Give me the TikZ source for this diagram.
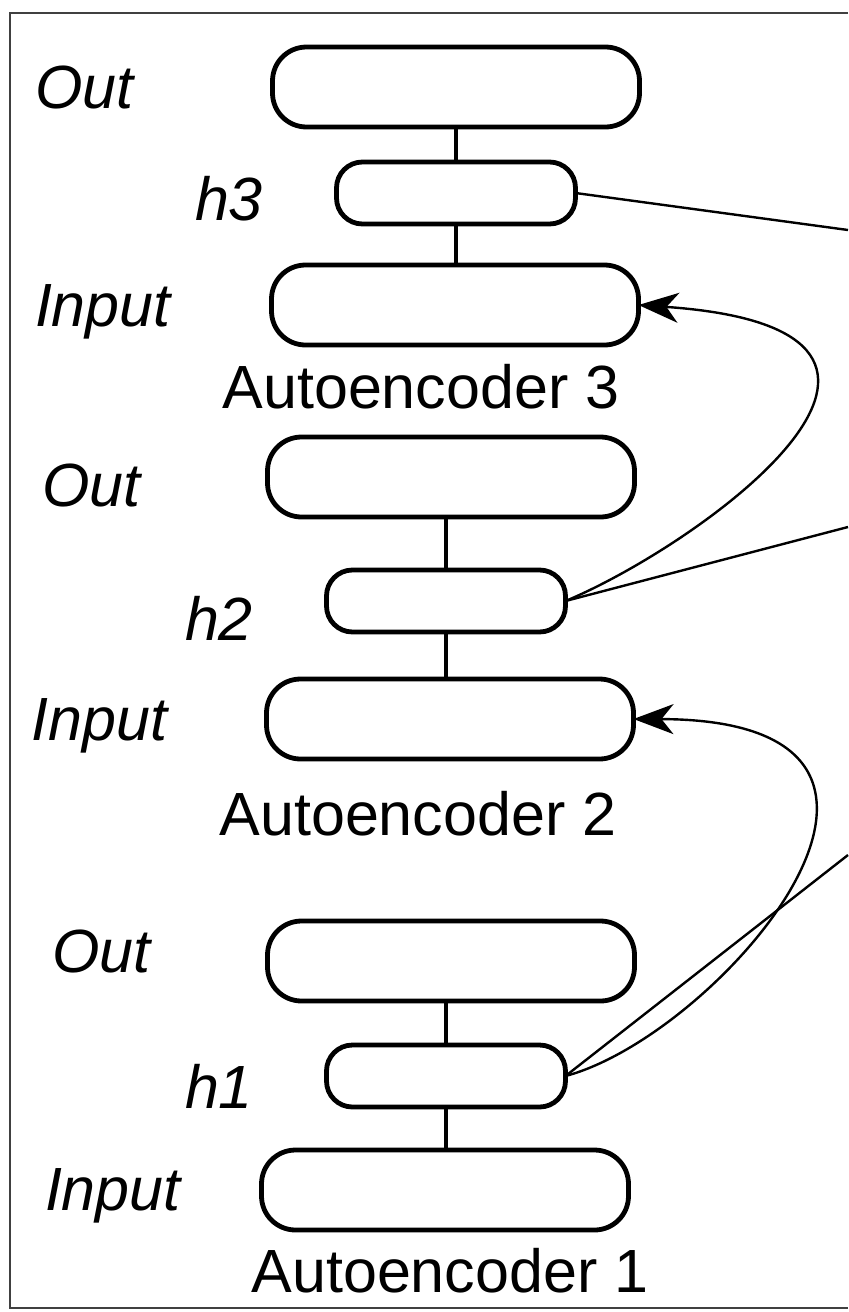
\documentclass[tikz,border=0pt]{standalone}
\usepackage{fontspec}
\setmainfont{Liberation Sans}
\usetikzlibrary{arrows.meta}
\begin{document}
\begin{tikzpicture}[
x=0.5pt, y=-0.5pt,
every node/.style={inner sep=0pt, outer sep=0pt},
font=\fontsize{30.5}{36}\selectfont,
unitbox/.style={draw, line width=2.4pt, rounded corners=17pt, minimum width=183.5pt, minimum height=40pt},
hidbox/.style={draw, line width=2.4pt, rounded corners=13pt, minimum width=119.5pt, minimum height=31pt},
note/.style={anchor=base west, font=\fontsize{30.5}{36}\selectfont\itshape},
caption/.style={anchor=base},
stem/.style={line width=2pt},
link/.style={line width=1.2pt},
feed/.style={line width=1.2pt, -{Stealth[length=20pt, width=15pt, inset=6pt]}}]
\useasboundingbox (0,0) rectangle (848,1312);
\draw[line width=1.2pt, black!75] (848,13) -- (10,13) -- (10,1308) -- (848,1308);

% autoencoder 3
\node[unitbox] (out3) at (456,87) {};
\node[hidbox] (hid3) at (456,193) {};
\node[unitbox] (in3) at (455,305) {};
\node[note] (out3l) at (35,108) {Out};
\node[note] (hid3l) at (195,220) {h3};
\node[note] (in3l) at (35,326) {Input};
\node[caption] (ae3) at (421,408) {Autoencoder 3};

% autoencoder 2
\node[unitbox] (out2) at (451,477) {};
\node[hidbox] (hid2) at (446,601) {};
\node[unitbox] (in2) at (450,719) {};
\node[note] (out2l) at (42,506) {Out};
\node[note] (hid2l) at (185,640) {h2};
\node[note] (in2l) at (32,740) {Input};
\node[caption] (ae2) at (418,835) {Autoencoder 2};

% autoencoder 1
\node[unitbox] (out1) at (451,961) {};
\node[hidbox] (hid1) at (446,1076) {};
\node[unitbox] (in1) at (445,1190) {};
\node[note] (out1l) at (52,972) {Out};
\node[note] (hid1l) at (185,1108) {h1};
\node[note] (in1l) at (45,1210) {Input};
\node[caption] (ae1) at (450,1292) {Autoencoder 1};

\foreach \i in {1,2,3} {
  \draw[stem] (hid\i.north) -- (hid\i.north |- out\i.south);
  \draw[stem] (hid\i.south) -- (hid\i.south |- in\i.north);
}

\coordinate (r3) at (848,230);
\coordinate (r2) at (848,527);
\coordinate (r1) at (848,855);
\draw[link] (hid3.east) -- (r3);
\draw[link] (hid2.east) -- (r2);
\draw[link] (hid1.east) -- (r1);

\draw[feed] (hid2.east) .. controls (700,545) and (1000,330) .. (in3.east);
\draw[feed] (hid1.east) .. controls (720,1035) and (990,720) .. (in2.east);
\end{tikzpicture}
\end{document}
